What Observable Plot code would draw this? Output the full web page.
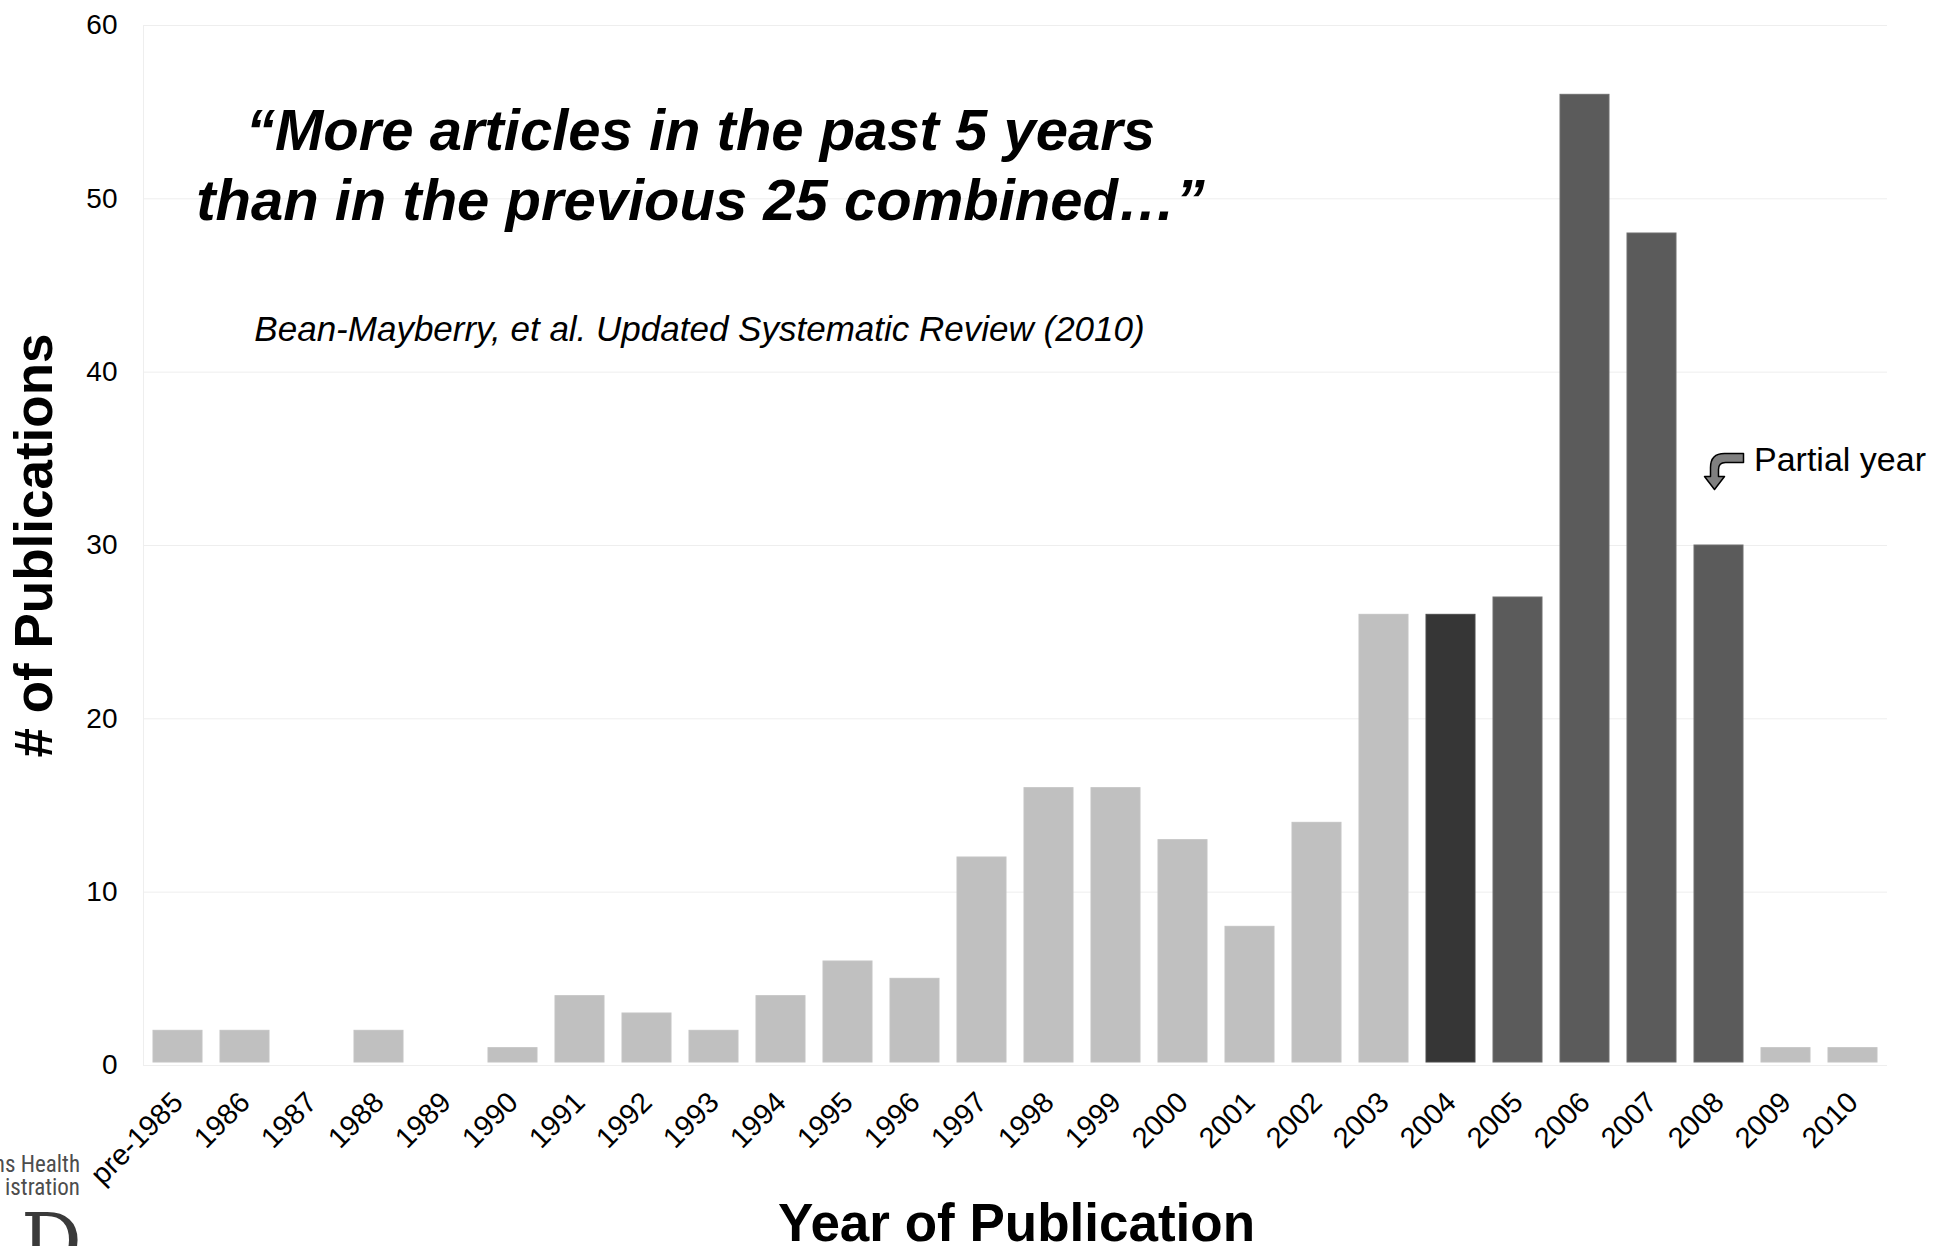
<!DOCTYPE html>
<html>
<head>
<meta charset="utf-8">
<script src="https://cdn.jsdelivr.net/npm/d3@7"></script>
<script src="https://cdn.jsdelivr.net/npm/@observablehq/plot@0.6"></script>
<style>
  html, body { margin: 0; padding: 0; background: #fff; }
  #chart svg { display: block; }
</style>
</head>
<body>
<div id="chart"></div>
<script>
const years = ["pre-1985","1986","1987","1988","1989","1990","1991","1992","1993","1994","1995","1996","1997","1998","1999","2000","2001","2002","2003","2004","2005","2006","2007","2008","2009","2010"];
const counts = [2,2,0,2,0,1,4,3,2,4,6,5,12,16,16,13,8,14,26,26,27,56,48,30,1,1];
const groups = ["light","light","light","light","light","light","light","light","light","light","light","light","light","light","light","light","light","light","light","dark","mid","mid","mid","mid","light","light"];
const yTicks = [0,10,20,30,40,50,60];
const groupColors = {light: "#c0c0c0", dark: "#363636", mid: "#5b5b5b"};
const groupStroke = {light: "#c4c4c4", dark: "#4a4a4a", mid: "#6e6e6e"};

const quoteText = "\u201cMore articles in the past 5 years\nthan in the previous 25 combined\u2026\u201d";
const citeText = "Bean-Mayberry, et al. Updated Systematic Review (2010)";
const partialNote = [{year: "2008", value: 33.2, label: "Partial year"}];

const data = years.map((y, i) => ({year: y, count: counts[i], group: groups[i]}));

const W = 1935, H = 1246;
const mL = 143, mR = 48, mT = 25, mB = 181;
const font = "Arial, 'Liberation Sans', sans-serif";

const plot = Plot.plot({
  width: W,
  height: H,
  marginLeft: mL,
  marginRight: mR,
  marginTop: mT,
  marginBottom: mB,
  style: {fontFamily: font, background: "#fff", color: "#000"},
  x: {domain: years, paddingInner: 0.263, paddingOuter: 0.137, label: null},
  y: {domain: [0, 60], label: null},
  marks: [
    Plot.gridY(yTicks, {stroke: "#eeeeee", strokeOpacity: 1}),
    Plot.frame({anchor: "left", stroke: "#eeeeee"}),
    Plot.ruleY([0], {stroke: "#eeeeee"}),
    Plot.barY(data, {
      x: "year", y: "count",
      fill: d => groupColors[d.group],
      stroke: d => groupStroke[d.group],
      strokeWidth: 1, insetBottom: 3
    }),
    Plot.axisY(yTicks, {tickSize: 0, tickPadding: 26, fontSize: 28, label: null}),
    Plot.axisX({tickSize: 0, tickPadding: 32, tickRotate: -45, fontSize: 29, label: null}),
    Plot.text([quoteText], {
      frameAnchor: "top-left", dx: 557, dy: 75, lineAnchor: "top",
      textAnchor: "middle", lineHeight: 1.2,
      fontSize: 58, fontWeight: "bold", fontStyle: "italic"
    }),
    Plot.text([citeText], {
      frameAnchor: "top-left", dx: 556, dy: 291, lineAnchor: "top",
      textAnchor: "middle", fontSize: 35, fontStyle: "italic"
    }),
    Plot.text(partialNote, {
      x: "year", y: "value", text: "label",
      textAnchor: "start", dx: 35, dy: -30, fontSize: 34
    }),
    Plot.text(["# of Publications"], {
      frameAnchor: "left", dx: -108, dy: 0, rotate: -90, textAnchor: "middle",
      fontSize: 53, fontWeight: "bold"
    }),
    Plot.text(["Year of Publication"], {
      frameAnchor: "bottom", dx: 1, dy: 159, lineAnchor: "middle",
      fontSize: 53, fontWeight: "bold"
    })
  ]
});

document.getElementById("chart").appendChild(plot);

// curved block arrow for the partial-year note, placed with the plot's scales
const sx = plot.scale("x"), sy = plot.scale("y");
const svg = d3.select(plot);
partialNote.forEach(d => {
  const cx = sx.apply(d.year) + sx.bandwidth / 2 - 4;
  const cy = sy.apply(d.value);
  svg.append("path")
    .attr("transform", `translate(${cx},${cy})`)
    .attr("d", "M0,0 L-10,-13 L-4,-13 L-4,-22 Q-4,-36 10,-36 L29,-36 L29,-27 L11,-27 Q4,-27 4,-20 L4,-13 L10,-13 Z")
    .attr("fill", "#808080")
    .attr("stroke", "#000")
    .attr("stroke-width", 1.5)
    .attr("stroke-linejoin", "round");
});

// partial agency logo text at lower-left (cropped in the original)
const logo = svg.append("g").attr("fill", "#4d4d4d")
  .attr("font-family", "'Liberation Sans Narrow', 'Arial Narrow', 'Roboto Condensed', sans-serif")
  .attr("font-size", 23).attr("text-anchor", "end");
logo.append("text").attr("x", 80).attr("y", 1172).text("ns Health");
logo.append("text").attr("x", 80).attr("y", 1195).text("istration");
svg.append("text").attr("x", 82).attr("y", 1268).attr("text-anchor", "end")
  .attr("font-family", "'DejaVu Serif', 'Liberation Serif', serif")
  .attr("font-size", 76).attr("fill", "#3a3a3a").text("D");
</script>
</body>
</html>
